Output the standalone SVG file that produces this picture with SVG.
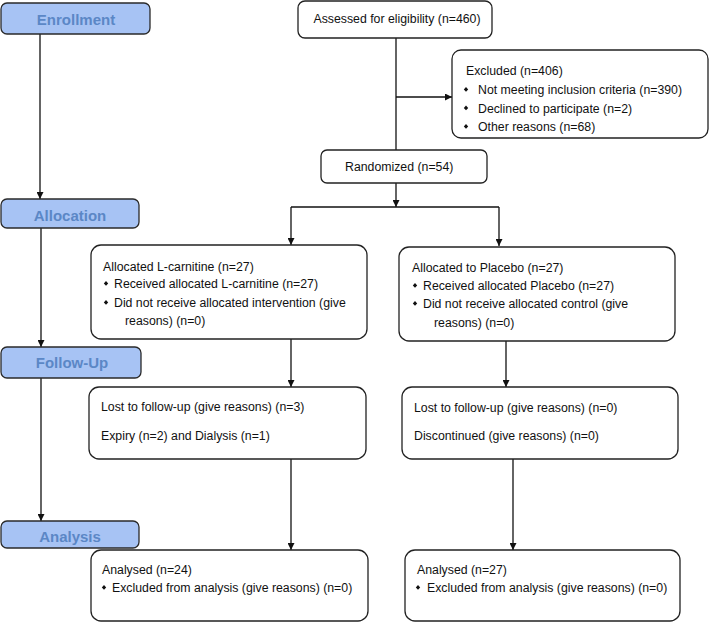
<svg xmlns="http://www.w3.org/2000/svg" width="709" height="623" viewBox="0 0 709 623">
<defs>
<marker id="ah" viewBox="0 0 10 10" refX="10" refY="5" markerWidth="7" markerHeight="7" markerUnits="userSpaceOnUse" orient="auto">
<path d="M0,0 L10,5 L0,10 z" fill="#111"/>
</marker>
<style>
.box{fill:#fff;stroke:#222;stroke-width:1.3}
.stage{fill:#a7c3f4;stroke:#2a2a2a;stroke-width:1.3}
.st{font-family:"Liberation Sans",Arial,sans-serif;font-weight:bold;font-size:15px;fill:#5b87c6;text-anchor:middle}
.t{font-family:"Liberation Sans",Arial,sans-serif;font-size:12.3px;fill:#111}
.ln{fill:none;stroke:#111;stroke-width:1.3}
.b{fill:#111}
</style>
</defs>
<rect width="709" height="623" fill="#fff"/>
<g id="connectors">
<path class="ln" d="M40,34 V199" marker-end="url(#ah)"/>
<path class="ln" d="M41,228 V347" marker-end="url(#ah)"/>
<path class="ln" d="M41,378 V521" marker-end="url(#ah)"/>
<path class="ln" d="M396,38 V150"/>
<path class="ln" d="M396,97 H452" marker-end="url(#ah)"/>
<path class="ln" d="M396,183 V207" marker-end="url(#ah)"/>
<path class="ln" d="M291,207 H499"/>
<path class="ln" d="M291,207 V245" marker-end="url(#ah)"/>
<path class="ln" d="M499,207 V246" marker-end="url(#ah)"/>
<path class="ln" d="M291,339 V387" marker-end="url(#ah)"/>
<path class="ln" d="M506,341 V387" marker-end="url(#ah)"/>
<path class="ln" d="M291,459 V550" marker-end="url(#ah)"/>
<path class="ln" d="M513,459 V550" marker-end="url(#ah)"/>
</g>
<g id="enrollment">
<rect class="stage" x="1" y="3" width="149" height="31" rx="6"/>
<text class="st" x="76" y="25">Enrollment</text>
</g>
<g id="allocation">
<rect class="stage" x="1" y="199" width="138" height="29" rx="6"/>
<text class="st" x="70" y="221">Allocation</text>
</g>
<g id="followup">
<rect class="stage" x="1" y="347" width="140" height="31" rx="6"/>
<text class="st" x="72" y="368">Follow-Up</text>
</g>
<g id="analysis">
<rect class="stage" x="1" y="521" width="138" height="27" rx="6"/>
<text class="st" x="70" y="542">Analysis</text>
</g>
<g id="assessed">
<rect class="box" x="298" y="1" width="194" height="37" rx="7"/>
<text class="t" x="397" y="23" font-size="11.2" text-anchor="middle">Assessed for eligibility (n=460)</text>
</g>
<g id="excluded">
<rect class="box" x="452" y="50" width="256" height="88" rx="9"/>
<text class="t" x="466" y="75">Excluded (n=406)</text>
<path class="b" d="M466,87 l2.2,2.4 l-2.2,2.4 l-2.2,-2.4 z"/>
<text class="t" x="478" y="94">Not meeting inclusion criteria (n=390)</text>
<path class="b" d="M466,105.5 l2.2,2.4 l-2.2,2.4 l-2.2,-2.4 z"/>
<text class="t" x="478" y="112.5">Declined to participate (n=2)</text>
<path class="b" d="M466,124 l2.2,2.4 l-2.2,2.4 l-2.2,-2.4 z"/>
<text class="t" x="478" y="131">Other reasons (n=68)</text>
</g>
<g id="randomized">
<rect class="box" x="321" y="150" width="166" height="33" rx="6"/>
<text class="t" x="345" y="171">Randomized (n=54)</text>
</g>
<g id="alloc-lcarnitine">
<rect class="box" x="91" y="245" width="276" height="94" rx="10"/>
<text class="t" x="103" y="271">Allocated L-carnitine (n=27)</text>
<path class="b" d="M106,281 l2.2,2.4 l-2.2,2.4 l-2.2,-2.4 z"/>
<text class="t" x="114" y="288">Received allocated L-carnitine (n=27)</text>
<path class="b" d="M106,300 l2.2,2.4 l-2.2,2.4 l-2.2,-2.4 z"/>
<text class="t" x="114" y="307">Did not receive allocated intervention (give</text>
<text class="t" x="125" y="325">reasons) (n=0)</text>
</g>
<g id="alloc-placebo">
<rect class="box" x="399" y="247" width="276" height="94" rx="10"/>
<text class="t" x="412" y="272">Allocated to Placebo (n=27)</text>
<path class="b" d="M415,283 l2.2,2.4 l-2.2,2.4 l-2.2,-2.4 z"/>
<text class="t" x="423" y="290">Received allocated Placebo (n=27)</text>
<path class="b" d="M415,301 l2.2,2.4 l-2.2,2.4 l-2.2,-2.4 z"/>
<text class="t" x="423" y="308">Did not receive allocated control (give</text>
<text class="t" x="434" y="327">reasons) (n=0)</text>
</g>
<g id="lost-lcarnitine">
<rect class="box" x="89" y="387" width="277" height="72" rx="10"/>
<text class="t" x="101" y="411">Lost to follow-up (give reasons) (n=3)</text>
<text class="t" x="101" y="440">Expiry (n=2) and Dialysis (n=1)</text>
</g>
<g id="lost-placebo">
<rect class="box" x="402" y="387" width="276" height="72" rx="10"/>
<text class="t" x="414" y="412">Lost to follow-up (give reasons) (n=0)</text>
<text class="t" x="414" y="440">Discontinued (give reasons) (n=0)</text>
</g>
<g id="analysed-lcarnitine">
<rect class="box" x="91" y="550" width="277" height="71" rx="10"/>
<text class="t" x="102" y="574">Analysed (n=24)</text>
<path class="b" d="M104,585 l2.2,2.4 l-2.2,2.4 l-2.2,-2.4 z"/>
<text class="t" x="112" y="592">Excluded from analysis (give reasons) (n=0)</text>
</g>
<g id="analysed-placebo">
<rect class="box" x="405" y="550" width="275" height="71" rx="10"/>
<text class="t" x="417" y="574">Analysed (n=27)</text>
<path class="b" d="M418,585 l2.2,2.4 l-2.2,2.4 l-2.2,-2.4 z"/>
<text class="t" x="427" y="592">Excluded from analysis (give reasons) (n=0)</text>
</g>
</svg>
